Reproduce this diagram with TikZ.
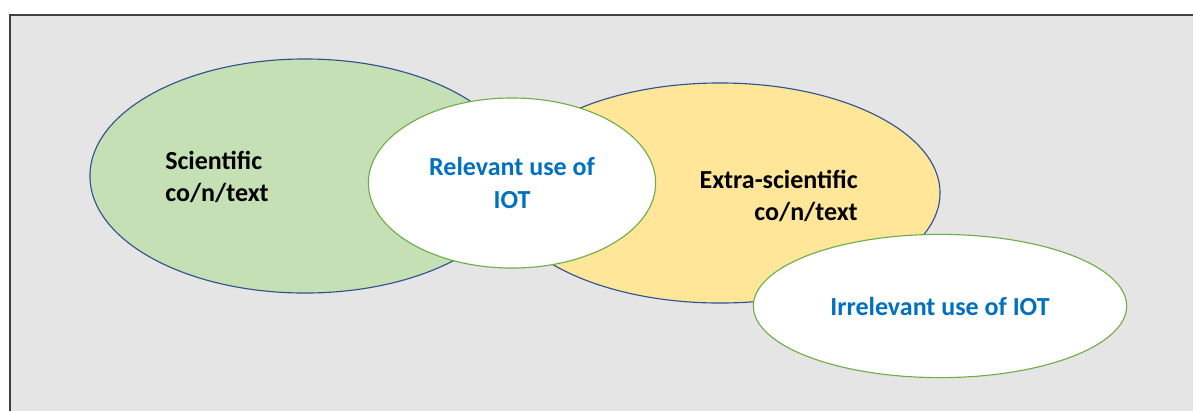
\documentclass[tikz,border=0pt]{standalone}
\usepackage{fontspec}
\setmainfont{Carlito}
\usetikzlibrary{shapes.geometric}
\definecolor{panelgray}{RGB}{229,229,229}
\definecolor{scigreen}{RGB}{197,224,180}
\definecolor{extrayellow}{RGB}{255,230,153}
\definecolor{rimblue}{RGB}{47,82,143}
\definecolor{rimgreen}{RGB}{112,173,71}
\definecolor{iotblue}{RGB}{0,112,192}

\tikzset{
    field/.style={ellipse, draw=rimblue, line width=0.8pt, inner sep=0pt},
    usage/.style={ellipse, draw=rimgreen, line width=0.8pt, fill=white, inner sep=0pt,
        text=iotblue, font=\fontsize{18.5}{23}\selectfont\bfseries, align=center},
    label/.style={font=\fontsize{18.5}{23}\selectfont\bfseries, inner sep=0pt}
}

\begin{document}
\begin{tikzpicture}[x=0.025cm, y=-0.025cm]
    \useasboundingbox (0,0) rectangle (1193,410);
    \fill[white] (0,0) rectangle (1193,410);
    \clip (0,0) rectangle (1193,410);
    \draw[fill=panelgray, draw=black!75, line width=1.2pt] (10,15) rectangle (1210,430);

    % the two contexts
    \node[field, fill=scigreen, minimum width=10.75cm, minimum height=5.85cm] (sci) at (305,176) {};
    \node[field, fill=extrayellow, minimum width=11cm, minimum height=5.5cm] (extra) at (720,193) {};

    \node[label, anchor=west, align=left] (scitext) at (165,177) {Scientific\\co/n/text};
    \node[label, anchor=east, align=right] (extratext) at (858,196) {Extra-scientific\\co/n/text};

    % uses of IOT
    \node[usage, minimum width=7.18cm, minimum height=4.25cm] (relevant) at (512,183) {Relevant use of\\IOT};
    \node[usage, minimum width=9.33cm, minimum height=3.58cm] (irrelevant) at (940,306) {Irrelevant use of IOT};
\end{tikzpicture}
\end{document}
